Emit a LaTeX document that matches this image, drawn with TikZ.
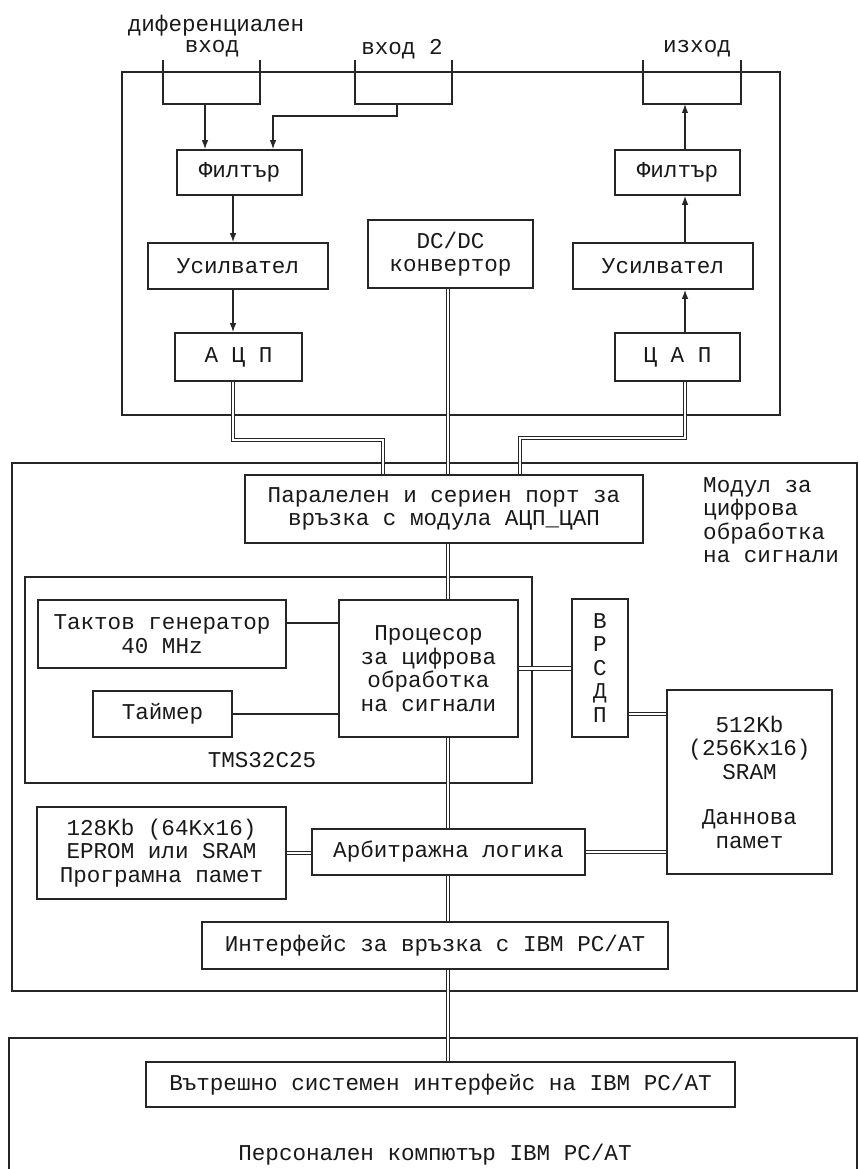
\documentclass[tikz,border=0pt]{standalone}
\usepackage{fontspec}
\setmainfont{Liberation Mono}
\usepackage{tikz}
\usetikzlibrary{arrows.meta}
\newcommand{\blokfont}{\fontsize{22.6}{23.5}\selectfont}

\begin{document}
\begin{tikzpicture}[x=1pt, y=-1pt,
  every node/.style={font=\blokfont, text=black!90},
  blok/.style={draw=black!85, line width=1.6pt, rectangle, inner sep=0pt, align=center},
  ramka/.style={draw=black!85, line width=1.6pt},
  linija/.style={draw=black!85, line width=1.3pt},
  shina/.style={draw=black!85, double=white, double distance=2.4pt, line width=1.1pt},
  strelka/.style={draw=black!85, line width=1.3pt, -{Latex[length=9pt,width=6.5pt]}}]

		% 画布
		\useasboundingbox (0,0) rectangle (859,1169);
		\fill[white] (0,0) rectangle (859,1169);

		% 外框: 模拟模块, 数字模块, TMS32C25, PC
		\draw[ramka] (122,72) rectangle (780,415);
		\draw[ramka] (12,463) rectangle (857,991);
		\draw[ramka] (25,577) rectangle (532,783);
		\draw[ramka] (9,1169) -- (9,1038) -- (857,1038) -- (857,1169);

		% 输入与输出端子
		\node (tDif) at (216,26) {диференциален};
		\node (tVh) at (212,49) {вход};
		\node (tVh2) at (402,49) {вход 2};
		\node (tIzh) at (697,49) {изход};
		\draw[linija] (163,60) -- (163,104) -- (260,104) -- (260,60);
		\draw[linija] (355,60) -- (355,104) -- (452,104) -- (452,60);
		\draw[linija] (643,60) -- (643,104) -- (741,104) -- (741,60);

		\coordinate (vhD) at (205,104);
		\coordinate (vh2) at (397,104);
		\coordinate (vh2k) at (273,116);
		\coordinate (izh) at (685,104);
		\coordinate (kolL) at (233,440);
		\coordinate (kolLp) at (383,440);
		\coordinate (kolR) at (685,438);
		\coordinate (kolRp) at (520,438);
		\coordinate (busX) at (448,0);
		\coordinate (yTakt) at (300,623);
		\coordinate (yPam) at (650,714);

		% 模拟部分 (左: 输入, 右: 输出)
		\node[blok, minimum width=125, minimum height=45] (filtL) at (239.5,172.5) {Филтър};
		\node[blok, minimum width=180, minimum height=46] (ampL) at (238,266) {Усилвател};
		\node[blok, minimum width=127, minimum height=48] (adc) at (238.5,357) {А Ц П};
		\node[blok, minimum width=165, minimum height=68] (dcdc) at (450.5,254) {DC/DC\\конвертор};
		\node[blok, minimum width=125, minimum height=45] (filtR) at (677.5,172.5) {Филтър};
		\node[blok, minimum width=180, minimum height=46] (ampR) at (663,266) {Усилвател};
		\node[blok, minimum width=125, minimum height=48] (dac) at (677.5,357) {Ц А П};

		% 数字部分
		\node[blok, minimum width=398, minimum height=68] (port) at (444,509) {Паралелен и сериен порт за\\връзка с модула АЦП\_ЦАП};
		\node[anchor=north west, align=left, inner sep=0pt] (tMod) at (703,477) {Модул за\\цифрова\\обработка\\на сигнали};
		\node[blok, minimum width=248, minimum height=68] (clk) at (162,634) {Тактов генератор\\40 MHz};
		\node[blok, minimum width=139, minimum height=46] (timer) at (162.5,714) {Таймер};
		\node[blok, minimum width=179, minimum height=137] (dsp) at (428.5,668.5) {Процесор\\за цифрова\\обработка\\на сигнали};
		\node[blok, minimum width=56, minimum height=138] (vrsdp) at (600,668) {В\\Р\\С\\Д\\П};
		\node (tTms) at (262,760) {TMS32C25};
		\node[blok, minimum width=165, minimum height=184] (sram) at (749.5,782) {512Kb\\(256Kx16)\\SRAM\\[22pt]Даннова\\памет};
		\node[blok, minimum width=273, minimum height=46] (arb) at (448.5,852) {Арбитражна логика};
		\node[blok, minimum width=249, minimum height=92] (eprom) at (161.5,853) {128Kb (64Kx16)\\EPROM или SRAM\\Програмна памет};
		\node[blok, minimum width=466, minimum height=47] (iface) at (435,945.5) {Интерфейс за връзка с IBM PC/AT};

		% PC
		\node[blok, minimum width=589, minimum height=45] (isa) at (440.5,1084.5) {Вътрешно системен интерфейс на IBM PC/AT};
		\node (tPc) at (435,1155) {Персонален компютър IBM PC/AT};

		% 信号箭头
		\draw[strelka] (vhD) -- (filtL.north -| vhD);
		\draw[strelka] (vh2) |- (vh2k) -- (filtL.north -| vh2k);
		\draw[strelka] (filtL.south -| kolL) -- (ampL.north -| kolL);
		\draw[strelka] (ampL.south -| kolL) -- (adc.north -| kolL);
		\draw[strelka] (dac.north -| kolR) -- (ampR.south -| kolR);
		\draw[strelka] (ampR.north -| kolR) -- (filtR.south -| kolR);
		\draw[strelka] (filtR.north -| kolR) -- (izh);

		% 总线 (双线)
		\draw[shina] (adc.south -| kolL) -- (kolL) -- (kolLp) -- (port.north -| kolLp);
		\draw[shina] (dac.south -| kolR) -- (kolR) -- (kolRp) -- (port.north -| kolRp);
		\draw[shina] (dcdc.south -| busX) -- (port.north -| busX);
		\draw[shina] (port.south -| busX) -- (dsp.north -| busX);
		\draw[shina] (dsp.south -| busX) -- (arb.north -| busX);
		\draw[shina] (arb.south -| busX) -- (iface.north -| busX);
		\draw[shina] (iface.south -| busX) -- (isa.north -| busX);
		\draw[shina] (dsp.east) -- (dsp.east -| vrsdp.west);
		\draw[shina] (vrsdp.east |- yPam) -- (sram.west |- yPam);
		\draw[shina] (arb.east) -- (arb.east -| sram.west);
		\draw[shina] (eprom.east) -- (eprom.east -| arb.west);
		\draw[linija] (clk.east |- yTakt) -- (dsp.west |- yTakt);
		\draw[linija] (timer.east) -- (timer.east -| dsp.west);
	\end{tikzpicture}
\end{document}
